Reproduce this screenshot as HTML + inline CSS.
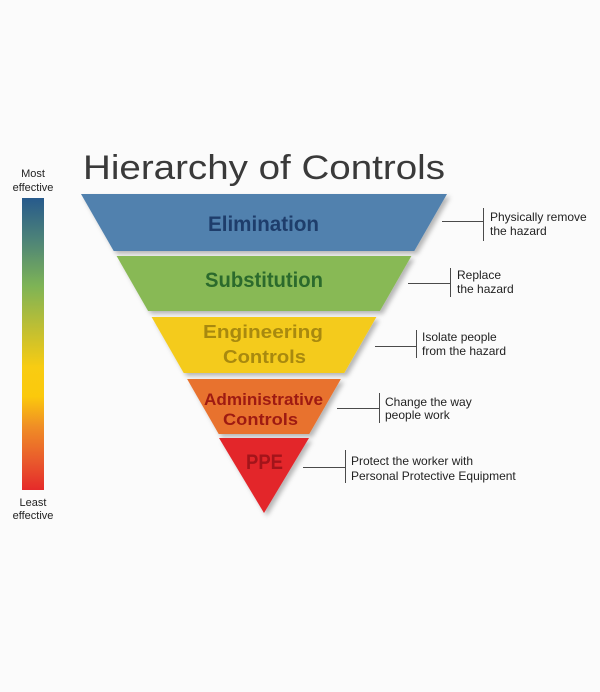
<!DOCTYPE html>
<html>
<head>
<meta charset="utf-8">
<style>
  html,body{margin:0;padding:0;background:#fbfbfb;}
  svg{display:block;}
  text{font-family:"Liberation Sans",sans-serif;}
</style>
</head>
<body>
<svg width="600" height="692" viewBox="0 0 600 692" xmlns="http://www.w3.org/2000/svg">
  <defs>
    <linearGradient id="bar" x1="0" y1="0" x2="0" y2="1">
      <stop offset="0" stop-color="#275a8c"/>
      <stop offset="0.15" stop-color="#4f8577"/>
      <stop offset="0.30" stop-color="#7db356"/>
      <stop offset="0.45" stop-color="#c1bf32"/>
      <stop offset="0.58" stop-color="#f8cc12"/>
      <stop offset="0.68" stop-color="#fbc90c"/>
      <stop offset="0.78" stop-color="#f08f25"/>
      <stop offset="0.90" stop-color="#e95a2c"/>
      <stop offset="1" stop-color="#e52a2a"/>
    </linearGradient>
    <filter id="sh" x="-10%" y="-10%" width="130%" height="130%">
      <feDropShadow dx="3" dy="3" stdDeviation="2.5" flood-color="#000" flood-opacity="0.28"/>
    </filter>
  </defs>

  <rect width="600" height="692" fill="#fbfbfb"/>

  <!-- Title -->
  <text x="83" y="179" font-size="34" fill="#3a3a3a" textLength="362" lengthAdjust="spacingAndGlyphs">Hierarchy of Controls</text>

  <!-- Effectiveness bar -->
  <text x="33" y="177" font-size="11" fill="#222" text-anchor="middle">Most</text>
  <text x="33" y="191" font-size="11" fill="#222" text-anchor="middle">effective</text>
  <rect x="22" y="198" width="22" height="292" fill="url(#bar)"/>
  <text x="33" y="506" font-size="11" fill="#222" text-anchor="middle">Least</text>
  <text x="33" y="519" font-size="11" fill="#222" text-anchor="middle">effective</text>

  <!-- Pyramid bands -->
  <g filter="url(#sh)">
    <polygon points="81,194 447,194 414.3,251 113.7,251" fill="#5181ae"/>
    <polygon points="116.6,256 411.4,256 379.9,311 148.1,311" fill="#88b955"/>
    <polygon points="151.6,317 376.4,317 344.3,373 183.7,373" fill="#f4cb1f"/>
    <polygon points="187.1,379 340.9,379 309.3,434 218.7,434" fill="#e8722f"/>
    <polygon points="219,438 309,438 264,513" fill="#e3252b"/>
  </g>

  <!-- Band labels -->
  <text x="208" y="231" font-size="21" font-weight="bold" fill="#1e3d6b" textLength="111" lengthAdjust="spacingAndGlyphs">Elimination</text>
  <text x="205" y="287" font-size="21" font-weight="bold" fill="#2b6a2c" textLength="118" lengthAdjust="spacingAndGlyphs">Substitution</text>
  <text x="203" y="338" font-size="18" font-weight="bold" fill="#a8890f" textLength="120" lengthAdjust="spacingAndGlyphs">Engineering</text>
  <text x="223" y="363" font-size="18" font-weight="bold" fill="#a8890f" textLength="83" lengthAdjust="spacingAndGlyphs">Controls</text>
  <text x="204" y="405" font-size="17" font-weight="bold" fill="#9e1a12" textLength="119" lengthAdjust="spacingAndGlyphs">Administrative</text>
  <text x="223" y="425" font-size="17" font-weight="bold" fill="#9e1a12" textLength="75" lengthAdjust="spacingAndGlyphs">Controls</text>
  <text x="246" y="469" font-size="21" font-weight="bold" fill="#a3141a" textLength="37" lengthAdjust="spacingAndGlyphs">PPE</text>

  <!-- Connectors -->
  <g stroke="#4a4a4a" stroke-width="1" fill="none">
    <line x1="442" y1="221.5" x2="483" y2="221.5"/>
    <line x1="483.5" y1="208" x2="483.5" y2="241"/>
    <line x1="408" y1="283.5" x2="450" y2="283.5"/>
    <line x1="450.5" y1="268" x2="450.5" y2="297"/>
    <line x1="375" y1="346.5" x2="416" y2="346.5"/>
    <line x1="416.5" y1="330" x2="416.5" y2="358"/>
    <line x1="337" y1="408.5" x2="379" y2="408.5"/>
    <line x1="379.5" y1="393" x2="379.5" y2="423"/>
    <line x1="303" y1="467.5" x2="345" y2="467.5"/>
    <line x1="345.5" y1="450" x2="345.5" y2="483"/>
  </g>

  <!-- Descriptions -->
  <g font-size="12" fill="#222">
    <text x="490" y="221">Physically remove</text>
    <text x="490" y="235">the hazard</text>
    <text x="457" y="279">Replace</text>
    <text x="457" y="293">the hazard</text>
    <text x="422" y="341">Isolate people</text>
    <text x="422" y="355">from the hazard</text>
    <text x="385" y="406">Change the way</text>
    <text x="385" y="419">people work</text>
    <text x="351" y="465">Protect the worker with</text>
    <text x="351" y="480">Personal Protective Equipment</text>
  </g>
</svg>
</body>
</html>
